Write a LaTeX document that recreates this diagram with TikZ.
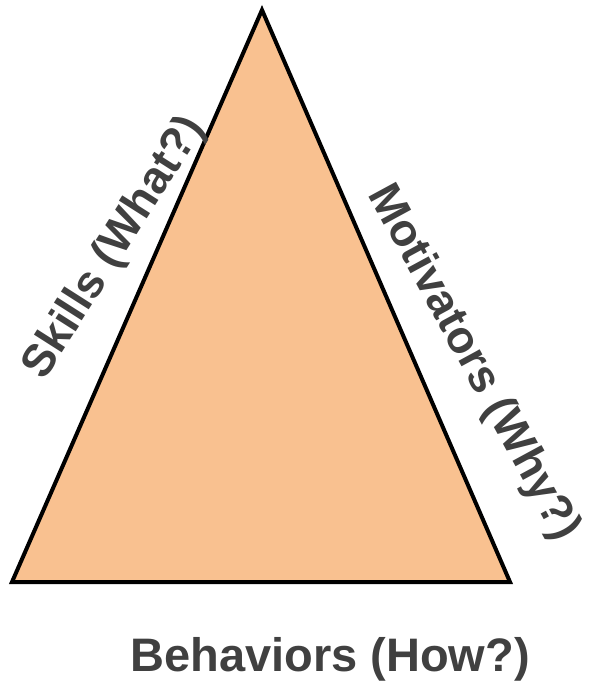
\documentclass[tikz,border=0pt]{standalone}
\usepackage{fontspec}
\setmainfont{Liberation Sans}
\definecolor{peach}{HTML}{F9C190}
\definecolor{txtgray}{HTML}{404040}
\begin{document}
\begin{tikzpicture}[x=1pt,y=-1pt,
  lbl/.style={font=\fontsize{45.5}{50}\selectfont\bfseries, text=txtgray, inner sep=0pt}]
\useasboundingbox (0,0) rectangle (598,681);
\coordinate (top) at (262,10);
\coordinate (bl) at (12,582);
\coordinate (br) at (510,582);
\draw[line width=4pt, line join=miter, fill=peach] (top) -- (br) -- (bl) -- cycle;
\node[lbl, rotate=57.5] (skills) at (115,248) {Skills (What?)};
\node[lbl, rotate=-61.5] (motiv) at (473,363) {Motivators (Why?)};
\node[lbl, font=\fontsize{47}{52}\selectfont\bfseries] (behav) at (330,659) {Behaviors (How?)};
\end{tikzpicture}
\end{document}
